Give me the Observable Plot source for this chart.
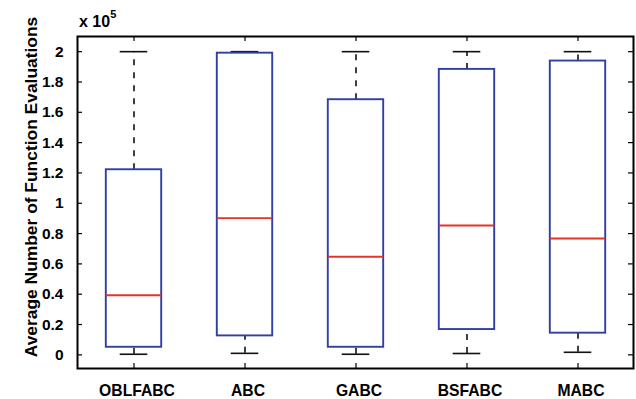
<!DOCTYPE html>
<html>
<head>
<meta charset="utf-8">
<script src="https://cdn.jsdelivr.net/npm/d3@7"></script>
<script src="https://cdn.jsdelivr.net/npm/@observablehq/plot@0.6"></script>
<style>
  body { margin: 0; background: #fff; }
  svg { font-family: "Liberation Sans", Arial, Helvetica, sans-serif; }
</style>
</head>
<body>
<div id="chart"></div>
<script>
// Values in units of 10^5 function evaluations
const categories = ["OBLFABC", "ABC", "GABC", "BSFABC", "MABC"];
const whiskerHigh = [2.0, 2.0, 2.0, 2.0, 2.0];
const q3 = [1.221, 1.99, 1.683, 1.883, 1.938];
const medians = [0.393, 0.902, 0.647, 0.853, 0.768];
const q1 = [0.05, 0.125, 0.05, 0.167, 0.143];
const whiskerLow = [0.004, 0.01, 0.004, 0.009, 0.017];
const yTicks = [0, 0.2, 0.4, 0.6, 0.8, 1, 1.2, 1.4, 1.6, 1.8, 2];
const yLabel = "Average Number of Function Evaluations";

const rows = categories.map((c, i) => ({
  name: c, hi: whiskerHigh[i], q3: q3[i], med: medians[i], q1: q1[i], lo: whiskerLow[i]
}));

const W = 636, H = 399;
const mL = 77, mR = 3, mT = 36, mB = 31;
const band = (W - mL - mR) / categories.length;
const boxInset = band * 0.25;
const capInset = band * 0.375;
const tickLen = 5;
const frameW = W - mL - mR, frameH = H - mT - mB;

const blue = "#2f3fa6";
const red = "#e5332a";

const chart = Plot.plot({
  width: W,
  height: H,
  marginLeft: mL,
  marginRight: mR,
  marginTop: mT,
  marginBottom: mB,
  style: { fontFamily: "Liberation Sans, Arial, sans-serif", fontSize: "15px", fontWeight: "bold", background: "white" },
  x: { type: "band", domain: categories, padding: 0, label: null },
  y: { domain: [-0.09, 2.1], label: null },
  marks: [
    Plot.axisY({ ticks: yTicks, tickSize: 0, tickPadding: 14, tickFormat: d => String(+d.toFixed(1)), fontWeight: "bold", fontSize: 15.5, label: null }),
    Plot.axisX({ tickSize: 0, tickPadding: 16, dx: 3, fontWeight: "bold", fontSize: 15.7, label: null }),
    // inward tick marks
    Plot.tickY(yTicks, { y: d => d, insetRight: frameW - tickLen, stroke: "black", strokeWidth: 1.2 }),
    Plot.tickY(yTicks, { y: d => d, insetLeft: frameW - tickLen, stroke: "black", strokeWidth: 1.2 }),
    Plot.ruleX(categories, { x: d => d, insetTop: frameH - tickLen, stroke: "black", strokeWidth: 1.2 }),
    Plot.ruleX(categories, { x: d => d, insetBottom: frameH - tickLen, stroke: "black", strokeWidth: 1.2 }),
    // whiskers
    Plot.ruleX(rows, { x: "name", y1: "q3", y2: "hi", stroke: "#111", strokeWidth: 1.6, strokeDasharray: "6,7" }),
    Plot.ruleX(rows, { x: "name", y1: "lo", y2: "q1", stroke: "#111", strokeWidth: 1.6, strokeDasharray: "6,7" }),
    Plot.tickY(rows, { x: "name", y: "hi", insetLeft: capInset, insetRight: capInset, stroke: "#111", strokeWidth: 1.6 }),
    Plot.tickY(rows, { x: "name", y: "lo", insetLeft: capInset, insetRight: capInset, stroke: "#111", strokeWidth: 1.6 }),
    // boxes
    Plot.barY(rows, { x: "name", y1: "q1", y2: "q3", insetLeft: boxInset, insetRight: boxInset, fill: "none", stroke: blue, strokeWidth: 1.9 }),
    // medians
    Plot.tickY(rows, { x: "name", y: "med", insetLeft: boxInset, insetRight: boxInset, stroke: red, strokeWidth: 1.9 }),
    Plot.frame({ stroke: "black", strokeWidth: 2 })
  ]
});

document.getElementById("chart").appendChild(chart);

const svg = d3.select(chart);
// exponent label
const ex = svg.append("text")
  .attr("x", 79).attr("y", 27)
  .attr("text-anchor", "start")
  .attr("font-size", 16).attr("font-weight", "bold").attr("fill", "black")
  .text("x 10");
ex.append("tspan").attr("dy", -9).attr("font-size", 11).text("5");

// y axis title
svg.append("text")
  .attr("transform", "translate(37,187) rotate(-90)")
  .attr("text-anchor", "middle")
  .attr("font-size", 17.4).attr("font-weight", "bold").attr("fill", "black")
  .text(yLabel);
</script>
</body>
</html>
